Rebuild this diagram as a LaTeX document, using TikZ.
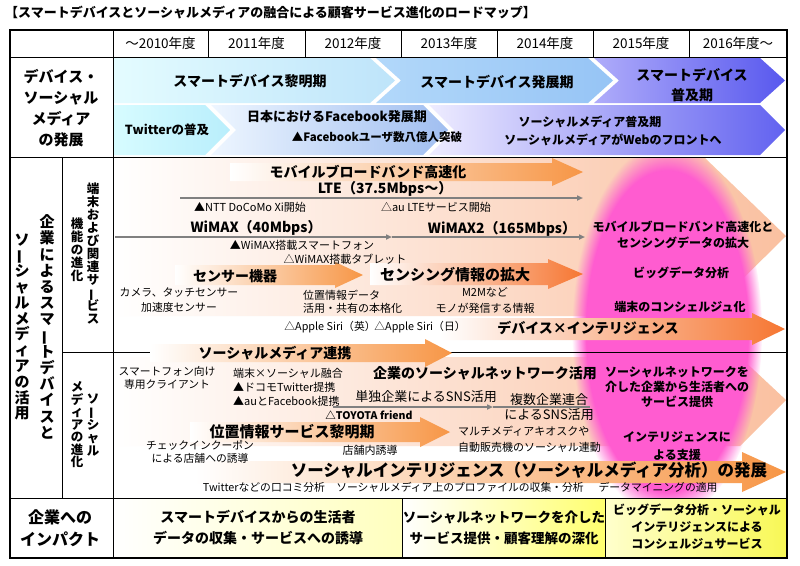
\documentclass[tikz,border=0pt]{standalone}
\usepackage{fontspec}
\setmainfont{Noto Sans CJK JP}
\usepackage{graphicx}
\usetikzlibrary{arrows.meta,fadings}

\definecolor{oarr}{RGB}{247,150,70}
\definecolor{oarrd}{RGB}{246,118,50}
\definecolor{bgor}{RGB}{250,192,160}
\definecolor{blobpink}{RGB}{255,92,208}
\definecolor{cyan1}{RGB}{228,252,255}
\definecolor{cyan2}{RGB}{190,228,250}
\definecolor{sky1}{RGB}{178,216,250}
\definecolor{sky2}{RGB}{150,196,245}
\definecolor{vio1}{RGB}{175,172,250}
\definecolor{vio2}{RGB}{88,88,238}
\definecolor{tw1}{RGB}{215,252,255}
\definecolor{tw2}{RGB}{185,238,252}
\definecolor{fb1}{RGB}{238,246,255}
\definecolor{fb2}{RGB}{160,190,240}
\definecolor{sm1}{RGB}{238,236,255}
\definecolor{sm2}{RGB}{98,98,240}
\definecolor{ylw1}{RGB}{255,255,190}
\definecolor{ylw2}{RGB}{255,255,110}
\definecolor{ylw3}{RGB}{255,255,205}
\definecolor{ylw4}{RGB}{248,248,85}
\definecolor{lgray}{RGB}{128,128,128}

\tikzstyle{txt} = [inner sep=0pt, align=center]
\tikzstyle{titlef} = [txt, font=\bfseries\fontsize{13}{15}\selectfont]
\tikzstyle{yearf} = [txt, font=\fontsize{13.5}{15}\selectfont]
\tikzstyle{rowlab} = [txt, font=\bfseries\fontsize{15}{21}\selectfont]
\tikzstyle{bigb} = [txt, font=\bfseries\fontsize{14}{20}\selectfont]
\tikzstyle{midb} = [txt, font=\bfseries\fontsize{12}{15}\selectfont]
\tikzstyle{speed} = [txt, font=\bfseries\fontsize{14}{16}\selectfont]
\tikzstyle{note} = [txt, font=\fontsize{10.8}{12.5}\selectfont]
\tikzstyle{notel} = [note, align=left, anchor=west]
\tikzstyle{mainv} = [txt, font=\bfseries\fontsize{15}{16.2}\selectfont]
\tikzstyle{subv} = [txt, font=\bfseries\fontsize{12.5}{13}\selectfont]
\tikzstyle{grayarrow} = [draw=lgray, line width=1.6pt, -{Triangle[length=6pt,width=5pt]}]
\tikzstyle{grayline} = [draw=lgray, line width=1.6pt]
\tikzstyle{grid} = [draw=black, line width=1pt]
\tikzstyle{oshade} = [left color=white, right color=oarr]

\newcommand{\vlong}{\smash{\rotatebox[origin=c]{90}{ー}}}
\newcommand{\orarrow}[7][]{%
	\shade[oshade,#1] (#2,#5-#6) -- (#3,#5-#6) -- (#3,#5-#7) -- (#4,#5) -- (#3,#5+#7) -- (#3,#5+#6) -- (#2,#5+#6) -- cycle;}

\begin{document}
\begin{tikzpicture}[x=1pt,y=-1pt]
	\useasboundingbox (0,0) rectangle (800,565);
	\fill[white] (0,0) rectangle (800,565);

	\node[titlef, anchor=west] (title) at (5,13) {【スマートデバイスとソーシャルメディアの融合による顧客サービス進化のロードマップ】};

	\shade[left color=cyan1, right color=cyan2] (113,58) -- (370,58) -- (395,80.5) -- (370,103) -- (113,103) -- cycle;
	\shade[left color=sky1, right color=sky2] (376,58) -- (588,58) -- (613,80.5) -- (588,103) -- (376,103) -- (401,80.5) -- cycle;
	\shade[left color=vio1, right color=vio2] (594,58) -- (760,58) -- (785,80.5) -- (760,103) -- (594,103) -- (619,80.5) -- cycle;
	\shade[left color=tw1, right color=tw2] (113,105) -- (205,105) -- (230,130) -- (205,155) -- (113,155) -- cycle;
	\shade[left color=fb1, right color=fb2] (211,105) -- (423,105) -- (448,130) -- (423,155) -- (211,155) -- (236,130) -- cycle;
	\shade[left color=sm1, right color=sm2] (429,105) -- (760,105) -- (785,130) -- (760,155) -- (429,155) -- (454,130) -- cycle;

	\begin{scope}
		\clip (113,157) rectangle (787,498);
		\shade[left color=white, right color=bgor] (113,158) -- (705,158) -- (786,236) -- (705,316) -- (113,316) -- cycle;
		\shade[left color=white, right color=bgor] (113,357) -- (740,357) -- (786,400) -- (740,446) -- (113,446) -- cycle;
		\fill[blobpink, path fading=circle with fuzzy edge 15 percent] (667,331) ellipse [x radius=95, y radius=188];
	\end{scope}

	\draw[grid] (62,352) -- (787,352);

	\orarrow{230}{552}{583}{172}{9}{14}
	\orarrow{175}{335}{363}{275}{10}{13}
	\orarrow[right color=oarrd]{370}{548}{583}{274}{11}{15}
	\orarrow[right color=oarrd]{440}{752}{785}{329}{11}{16}
	\orarrow{150}{425}{452}{353}{9}{14}
	\orarrow{190}{420}{450}{432}{10}{15}
	\orarrow{195}{742}{786}{472}{11}{20}

	\coordinate (lteS) at (180,198);
	\coordinate (lteE) at (583,198);
	\coordinate (wmS) at (115,237);
	\coordinate (wmM) at (392,237);
	\coordinate (wmE) at (585,237);
	\coordinate (snsS) at (333,407);
	\coordinate (snsM) at (493,407);
	\coordinate (snsE) at (590,407);
	\draw[grayarrow] (lteS) -- (lteE);
	\draw[grayarrow] (wmS) -- (wmM);
	\draw[grayarrow] (wmM) -- (wmE);
	\draw[grayarrow] (snsS) -- (snsM);
	\draw[grayline] (snsM) -- (snsE);

	\shade[left color=white, right color=ylw1] (113,498) rectangle (402,558);
	\shade[left color=white, right color=ylw2] (402,498) rectangle (605,558);
	\shade[left color=ylw3, right color=ylw4] (605,498) rectangle (787,558);

	\draw[grid] (10,57) -- (787,57);
	\draw[grid] (10,157) -- (787,157);
	\draw[grid] (10,498) -- (787,498);
	\draw[grid] (113,30) -- (113,558);
	\draw[grid] (62,157) -- (62,498);
	\draw[grid] (208,30) -- (208,57);
	\draw[grid] (305,30) -- (305,57);
	\draw[grid] (401,30) -- (401,57);
	\draw[grid] (497,30) -- (497,57);
	\draw[grid] (593,30) -- (593,57);
	\draw[grid] (689,30) -- (689,57);
	\draw[grid] (402,498) -- (402,558);
	\draw[grid] (605,498) -- (605,558);
	\draw[draw=black, line width=1.4pt] (10,30) rectangle (787,558);

	\node[yearf] (y10) at (160.5,43.5) {～2010年度};
	\node[yearf] (y11) at (256.5,43.5) {2011年度};
	\node[yearf] (y12) at (353,43.5) {2012年度};
	\node[yearf] (y13) at (449,43.5) {2013年度};
	\node[yearf] (y14) at (545,43.5) {2014年度};
	\node[yearf] (y15) at (641,43.5) {2015年度};
	\node[yearf] (y16) at (738,43.5) {2016年度～};

	\node[rowlab] (dev) at (61,108) {デバイス・\\ソーシャル\\メディア\\の発展};
	\node[rowlab, font=\bfseries\fontsize{16}{22}\selectfont] (imp) at (60,528) {企業への\\インパクト};
	\node[mainv] (kig) at (47,327) {企\\業\\に\\よ\\る\\ス\\マ\\\vlong\\ト\\デ\\バ\\イ\\ス\\と};
	\node[mainv, font=\bfseries\fontsize{15}{15.8}\selectfont] (soc) at (22,327) {ソ\\\vlong\\シ\\ャ\\ル\\メ\\デ\\ィ\\ア\\の\\活\\用};
	\node[subv] (tan) at (93,254) {端\\末\\お\\よ\\び\\関\\連\\サ\\\vlong\\ビ\\ス};
	\node[subv] (kin) at (77,250) {機\\能\\の\\進\\化};
	\node[subv] (sso) at (93,425) {ソ\\\vlong\\シ\\ャ\\ル};
	\node[subv, font=\bfseries\fontsize{12.5}{12.5}\selectfont] (med) at (77,425) {メ\\デ\\ィ\\ア\\の\\進\\化};

	\node[bigb] (sd1) at (250,81) {スマートデバイス黎明期};
	\node[bigb] (sd2) at (497,82) {スマートデバイス発展期};
	\node[bigb] (sd3) at (692,85) {スマートデバイス\\普及期};
	\node[txt, font=\bfseries\fontsize{12.5}{15}\selectfont] (twf) at (167,130) {Twitterの普及};
	\node[txt, font=\bfseries\fontsize{13}{15}\selectfont] (fbj) at (337,117) {日本におけるFacebook発展期};
	\node[txt, font=\bfseries\fontsize{11.5}{14}\selectfont] (fbu) at (377,137) {▲Facebookユーザ数八億人突破};
	\node[midb] (smf) at (590,122) {ソーシャルメディア普及期};
	\node[midb] (smw) at (613,140) {ソーシャルメディアがWebのフロントへ};

	\node[bigb] (mbb) at (368,172) {モバイルブロードバンド高速化};
	\node[speed] (lte) at (385,189) {LTE（37.5Mbps～）};
	\node[note, font=\fontsize{11}{13}\selectfont] (xi) at (250,207) {▲NTT DoCoMo Xi開始};
	\node[note, font=\fontsize{11}{13}\selectfont] (aul) at (436,207) {△au LTEサービス開始};
	\node[speed] (wm1) at (256,228) {WiMAX（40Mbps）};
	\node[speed] (wm2) at (502,229) {WiMAX2（165Mbps）};
	\node[note, font=\fontsize{11}{13}\selectfont] (wms) at (302,245) {▲WiMAX搭載スマートフォン};
	\node[note, font=\fontsize{11}{13}\selectfont] (wmt) at (345,259) {△WiMAX搭載タブレット};
	\node[bigb] (sen) at (235,276) {センサー機器};
	\node[bigb, font=\bfseries\fontsize{15}{17}\selectfont] (sng) at (455,275) {センシング情報の拡大};
	\node[note, font=\fontsize{10.8}{15}\selectfont] (cam) at (179,300.5) {カメラ、タッチセンサー\\加速度センサー};
	\node[notel, font=\fontsize{11}{13}\selectfont] (pos) at (303,301.5) {位置情報データ\\活用・共有の本格化};
	\node[note, font=\fontsize{11}{16}\selectfont] (m2m) at (485,300) {M2Mなど\\モノが発信する情報};
	\node[note] (sir1) at (330,327) {△Apple Siri（英）};
	\node[note] (sir2) at (420,327) {△Apple Siri（日）};
	\node[bigb] (dxi) at (588,328) {デバイス×インテリジェンス};
	\node[midb, font=\bfseries\fontsize{12}{16}\selectfont] (pk1) at (683,235) {モバイルブロードバンド高速化と\\センシングデータの拡大};
	\node[midb] (pk2) at (681,273) {ビッグデータ分析};
	\node[midb] (pk3) at (680,307) {端末のコンシェルジュ化};

	\node[bigb] (sml) at (275,353) {ソーシャルメディア連携};
	\node[note] (spc) at (167,378) {スマートフォン向け\\専用クライアント};
	\node[notel, font=\fontsize{11}{14}\selectfont] (fus) at (233,387) {端末×ソーシャル融合\\▲ドコモTwitter提携\\▲auとFacebook提携};
	\node[bigb] (ksn) at (485,373) {企業のソーシャルネットワーク活用};
	\node[txt, font=\fontsize{13}{15}\selectfont] (tan1) at (426,397) {単独企業によるSNS活用};
	\node[txt, font=\fontsize{13}{15}\selectfont] (fuk) at (549,407.5) {複数企業連合\\によるSNS活用};
	\node[txt, font=\bfseries\fontsize{10.5}{13}\selectfont] (toy) at (369,415) {△TOYOTA friend};
	\node[bigb, font=\bfseries\fontsize{15}{17}\selectfont] (ich) at (292,432) {位置情報サービス黎明期};
	\node[note] (chk) at (200,452) {チェックインクーポン\\による店舗への誘導};
	\node[note, font=\fontsize{11}{13}\selectfont] (ten) at (370,450) {店舗内誘導};
	\node[notel, font=\fontsize{11}{16}\selectfont] (kio) at (458,439) {マルチメディアキオスクや\\自動販売機のソーシャル連動};
	\node[midb] (pk4) at (677,387) {ソーシャルネットワークを\\介した企業から生活者への\\サービス提供};
	\node[midb, font=\bfseries\fontsize{12}{18}\selectfont] (pk5) at (677,446) {インテリジェンスに\\よる支援};
	\node[txt, font=\bfseries\fontsize{16.5}{18}\selectfont] (sin) at (529,470) {ソーシャルインテリジェンス（ソーシャルメディア分析）の発展};
	\node[note] (kut) at (264,487) {Twitterなどの口コミ分析};
	\node[note] (prf) at (460,487) {ソーシャルメディア上のプロファイルの収集・分析};
	\node[note] (dmn) at (658,487) {データマイニングの適用};

	\node[bigb, font=\bfseries\fontsize{14}{21}\selectfont] (im1) at (258,528) {スマートデバイスからの生活者\\データの収集・サービスへの誘導};
	\node[bigb, font=\bfseries\fontsize{13.5}{21}\selectfont] (im2) at (504,528) {ソーシャルネットワークを介した\\サービス提供・顧客理解の深化};
	\node[midb, font=\bfseries\fontsize{12}{17}\selectfont] (im3) at (697,527) {ビッグデータ分析・ソーシャル\\インテリジェンスによる\\コンシェルジュサービス};
\end{tikzpicture}
\end{document}
